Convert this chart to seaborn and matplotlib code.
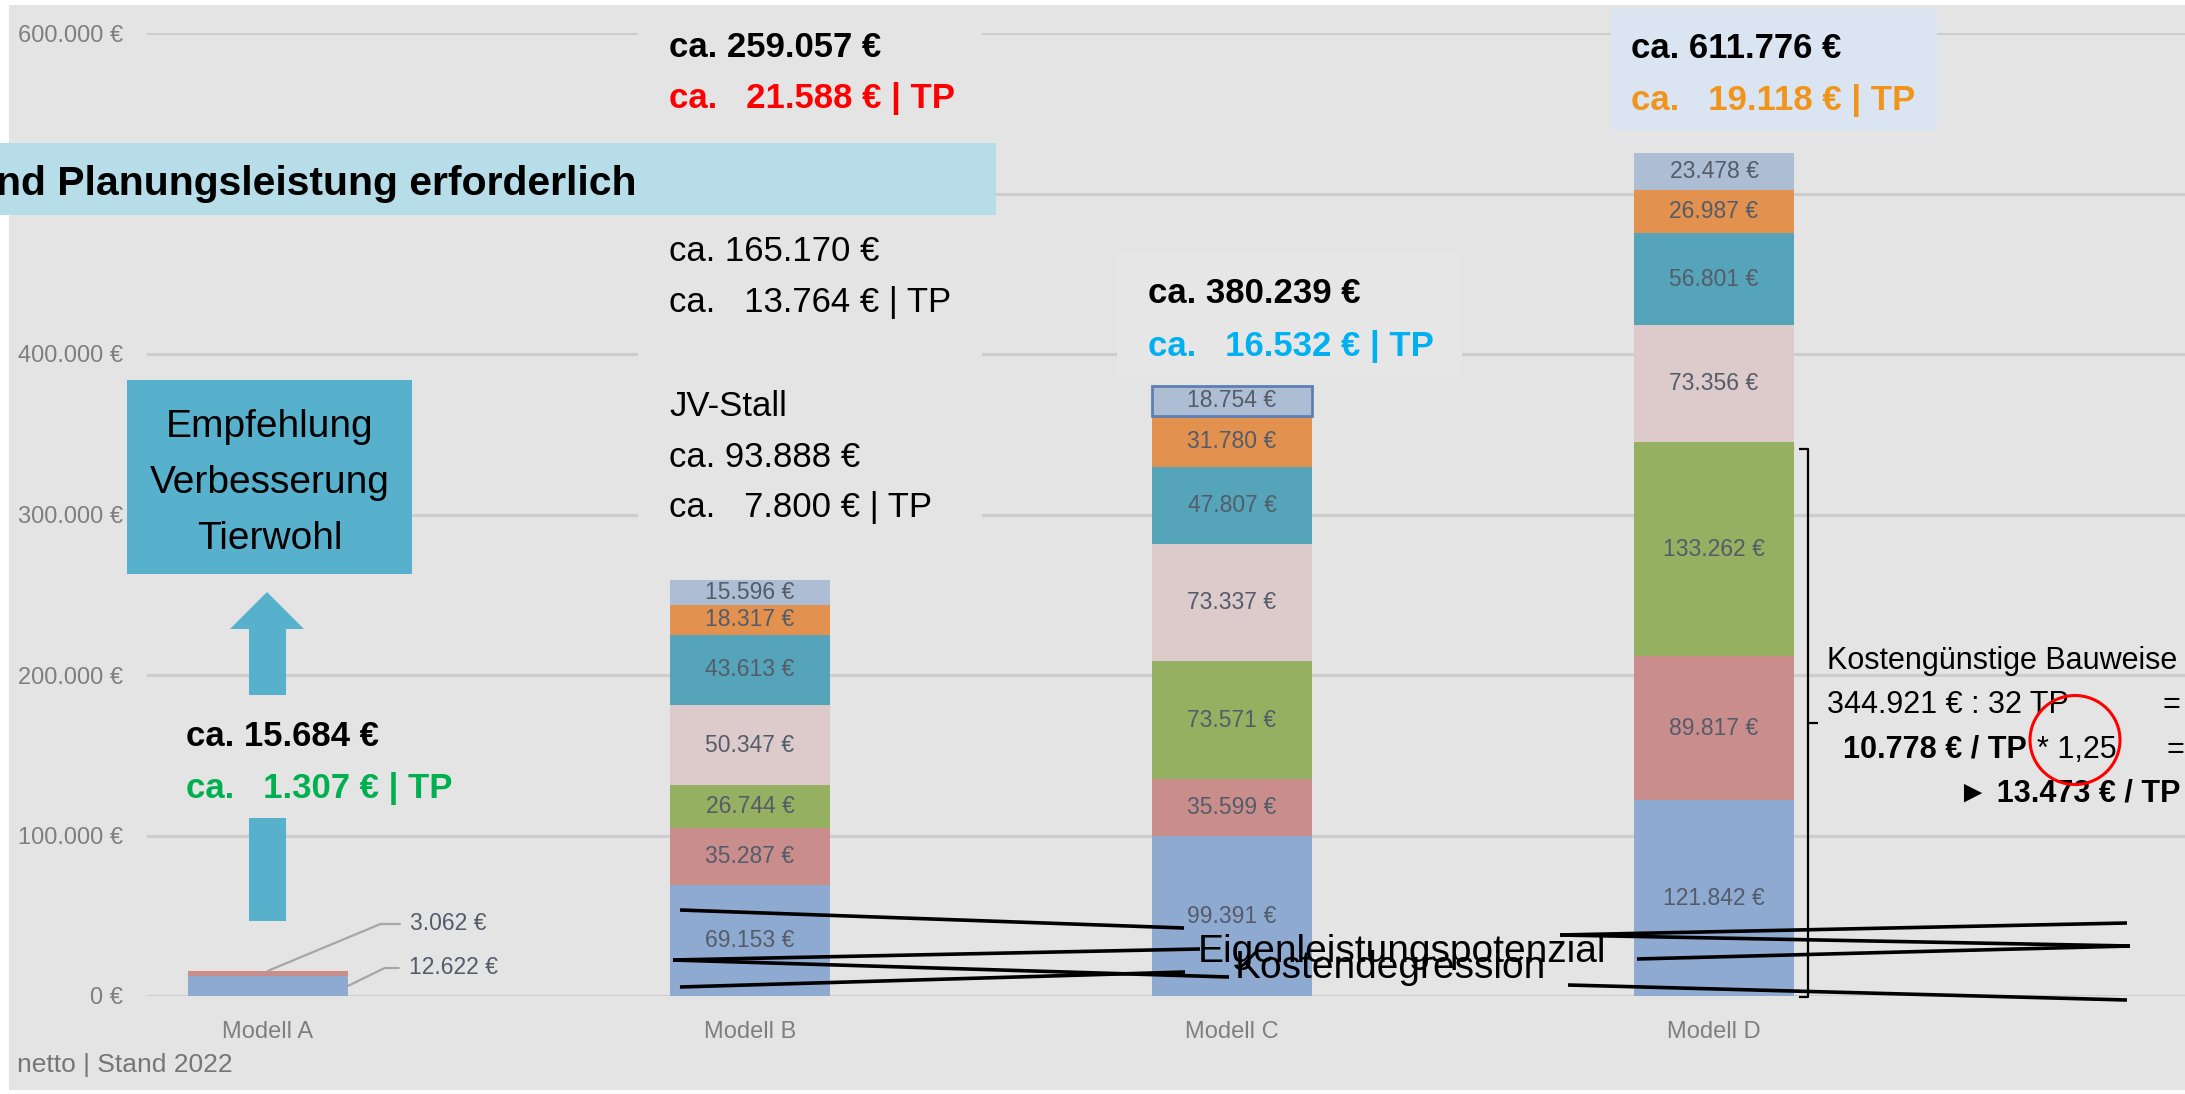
"""
Stallbau-Kosten Modell A-D als gestapelte Balken,
Folie mit Textfeldern und Markierungen nachgebaut
"""

import numpy as np
import pandas as pd
import seaborn as sns
import matplotlib.pyplot as plt
from matplotlib.patches import Rectangle, Ellipse, Polygon
from matplotlib.lines import Line2D


#############################
# data
models = ["Modell A", "Modell B", "Modell C", "Modell D"]

# cost blocks per model, bottom to top
blau = [12622, 69153, 99391, 121842]
rot = [3062, 35287, 35599, 89817]
gruen = [0, 26744, 73571, 133262]
rosa = [0, 50347, 73337, 73356]
petrol = [0, 43613, 47807, 56801]
orange = [0, 18317, 31780, 26987]
hellblau = [0, 15596, 18754, 23478]

y_ticks = [0, 100000, 200000, 300000, 400000, 500000, 600000]
#############################

segments = [blau, rot, gruen, rosa, petrol, orange, hellblau]
seg_colors = ["#8eaad1", "#c98e8c", "#95b061", "#dccbca",
              "#56a4b9", "#e2914f", "#adbdd3"]

bg = "#e4e4e4"
W, H = 2185, 1094


def eur(v):
    return "{:,}".format(v).replace(",", ".") + " €"


def fx(x):
    return x / W


def fy(y):
    return 1 - y / H


sns.set_style("white")
plt.rcParams['font.family'] = ['Liberation Sans', 'DejaVu Sans']

fig = plt.figure(figsize=(W / 100, H / 100), dpi=100)
fig.patch.set_facecolor("white")
fig.patches.append(Rectangle((fx(9), fy(1090)), 1 - fx(9), fy(5) - fy(1090),
                             transform=fig.transFigure, facecolor=bg,
                             edgecolor="none", zorder=-5))

ax = fig.add_axes([fx(147), fy(996), 1 - fx(147), fy(33) - fy(996)])
ax.set_facecolor("none")

# stacked bars
bottom = np.zeros(len(models))
for vals, col in zip(segments, seg_colors):
    sns.barplot(x=models, y=vals, color=col, saturation=1, width=0.332,
                errorbar=None, bottom=bottom, linewidth=0, ax=ax, zorder=2)
    bottom = bottom + np.array(vals)

# selected top block of Modell C has a frame
ax.containers[-1].patches[2].set_edgecolor("#5d7fb3")
ax.containers[-1].patches[2].set_linewidth(2)

# segment labels
lab_col = "#545c6a"
bottom = np.zeros(len(models))
for vals in segments:
    for i, v in enumerate(vals):
        if v > 0 and i > 0:
            ax.text(i, bottom[i] + v / 2, eur(v), ha="center", va="center",
                    fontsize=16.5, color=lab_col, zorder=3)
    bottom = bottom + np.array(vals)

# Modell A labels with leader lines
lead = dict(arrowstyle="-", color="#a6a6a6", lw=1.6, relpos=(0, 0.5),
            shrinkA=5, shrinkB=0)
ax.annotate(eur(rot[0]), xy=(0, blau[0] + rot[0]), xycoords="data",
            xytext=(410, H - 924), textcoords="figure pixels",
            ha="left", va="center", fontsize=16.5, color=lab_col,
            arrowprops=dict(connectionstyle="angle,angleA=0,angleB=22.6,rad=0",
                            **lead))
ax.annotate(eur(blau[0]), xy=(0.166, blau[0] / 2), xycoords="data",
            xytext=(409, H - 968), textcoords="figure pixels",
            ha="left", va="center", fontsize=16.5, color=lab_col,
            arrowprops=dict(connectionstyle="angle,angleA=0,angleB=26,rad=0",
                            **lead))

# axes styling (500.000 € label sits under the banner on the slide)
ax.set_ylim(0, 600000)
ax.set_xlim(-0.251, 3.977)
ax.set_yticks(y_ticks)
ax.set_yticklabels(["" if t == 500000 else eur(t) for t in y_ticks])
ax.set_xticks(range(len(models)))
ax.set_xticklabels(models)
ax.tick_params(axis="y", length=0, pad=17, labelsize=17, labelcolor="#7f7f7f")
ax.tick_params(axis="x", length=0, pad=18, labelsize=17, labelcolor="#7f7f7f")
ax.grid(axis="y", color="#cdcdcd", lw=2.2, zorder=0)
ax.set_axisbelow(True)
for s in ax.spines.values():
    s.set_visible(False)
ax.set_xlabel("")
ax.set_ylabel("")


# overlays in pixel positions
def box(x0, y0, x1, y1, col, z=1):
    fig.patches.append(Rectangle((fx(x0), fy(y1)), fx(x1) - fx(x0),
                                 fy(y0) - fy(y1), transform=fig.transFigure,
                                 facecolor=col, edgecolor="none", zorder=z))


def txt(x, y, s, size, col="black", weight="normal", ha="left"):
    fig.text(fx(x), fy(y), s, fontsize=size, color=col, fontweight=weight,
             ha=ha, va="baseline", zorder=4)


def line(pts, lw=2.6, col="black"):
    xs = [fx(p[0]) for p in pts]
    ys = [fy(p[1]) for p in pts]
    fig.lines.append(Line2D(xs, ys, transform=fig.transFigure, color=col,
                            lw=lw, solid_capstyle="butt", zorder=3))


# text boxes
box(638, 5, 982, 530, bg)
box(1117, 253, 1462, 377, "#e6e6e6")
box(1611, 8, 1937, 130, "#dbe5f1")
box(-5, 143, 996, 215, "#b7dde8")
box(127, 380, 412, 574, "#57b1cc")

# arrow
arrow = [(267, 592), (304, 629), (286, 629), (286, 695), (249, 695),
         (249, 629), (230, 629)]
fig.patches.append(Polygon([(fx(a), fy(b)) for a, b in arrow], closed=True,
                           transform=fig.transFigure, facecolor="#57b1cc",
                           edgecolor="none", zorder=1))
box(249, 818, 286, 921, "#57b1cc")

# Modell B block
txt(669, 57, "ca. 259.057 €", 25, weight="bold")
txt(669, 108, "ca.   21.588 € | TP", 25, col="#ff0000", weight="bold")
txt(-4, 195, "nd Planungsleistung erforderlich", 29.5, weight="bold")
txt(669, 261, "ca. 165.170 €", 25)
txt(669, 312, "ca.   13.764 € | TP", 25)
txt(669, 416, "JV-Stall", 25)
txt(669, 467, "ca. 93.888 €", 25)
txt(669, 517, "ca.   7.800 € | TP", 25)

# Modell C, D, A blocks
txt(1148, 303, "ca. 380.239 €", 25, weight="bold")
txt(1148, 356, "ca.   16.532 € | TP", 25, col="#00b0f0", weight="bold")
txt(1631, 58, "ca. 611.776 €", 25, weight="bold")
txt(1631, 110, "ca.   19.118 € | TP", 25, col="#f0941c", weight="bold")
txt(186, 746, "ca. 15.684 €", 25, weight="bold")
txt(186, 798, "ca.   1.307 € | TP", 25, col="#00b050", weight="bold")

# Empfehlung box text
txt(270, 437, "Empfehlung", 28, ha="center")
txt(270, 493, "Verbesserung", 28, ha="center")
txt(270, 549, "Tierwohl", 28, ha="center")

# cost-saving note on Modell D
line([(1799, 449), (1808, 449), (1808, 997), (1799, 997)], lw=1.6)
line([(1808, 723), (1818, 723)], lw=1.6)
txt(1827, 669, "Kostengünstige Bauweise", 22)
txt(1827, 713, "344.921 € : 32 TP", 22)
txt(2163, 713, "=", 22)
txt(1843, 758, "10.778 € / TP", 22, weight="bold")
txt(2037, 758, "* 1,25", 22)
txt(2167, 758, "=", 22)
txt(2180, 802, "► 13.473 € / TP", 22, weight="bold", ha="right")
fig.patches.append(Ellipse((fx(2075), fy(740)), 90 / W, 89 / H,
                           transform=fig.transFigure, facecolor="none",
                           edgecolor="#ff0000", lw=2.2, zorder=5))

# connector lines and labels
line([(680, 910), (1184, 928)])
line([(673, 960), (1200, 949)])
line([(673, 960), (1229, 977)])
line([(680, 987), (1185, 972)])
line([(1560, 935), (2127, 923)])
line([(1560, 935), (2130, 946)])
line([(1637, 959), (2130, 946)])
line([(1568, 985), (2127, 1000)])
txt(1198, 962, "Eigenleistungspotenzial", 28)
txt(1235, 978, "Kostendegression", 28)

# footer
txt(17, 1072, "netto | Stand 2022", 19, col="#767676")

plt.savefig("out.png", dpi=100, facecolor=fig.get_facecolor())
